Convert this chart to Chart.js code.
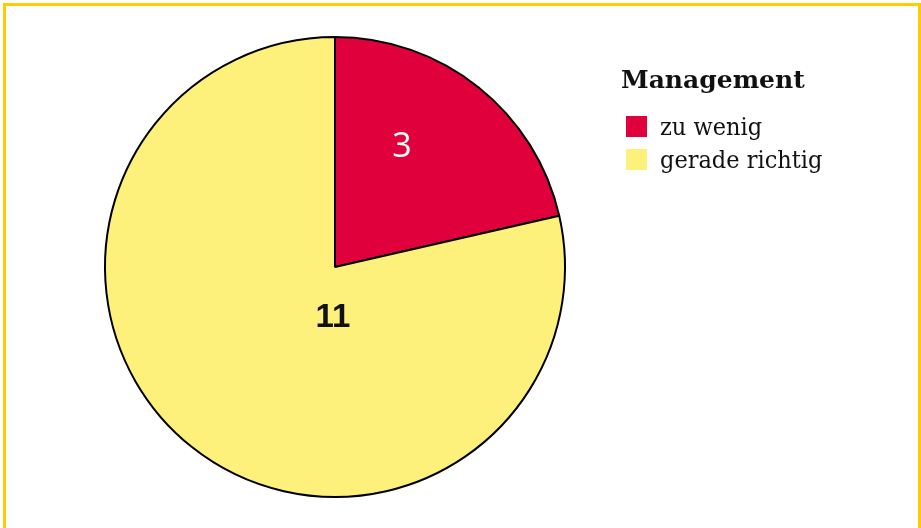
<!DOCTYPE html>
<html>
<head>
<meta charset="utf-8">
<script src="https://cdn.jsdelivr.net/npm/chart.js@4"></script>
<style>
html,body{margin:0;padding:0;background:#fff;}
#wrap{position:relative;width:921px;height:528px;overflow:hidden;}
#frame{position:absolute;left:3px;top:3px;width:912px;height:600px;border:3px solid #FFCC00;}
#c{position:absolute;left:0;top:0;}
.lg{position:absolute;left:622px;font-family:"DejaVu Serif Condensed","DejaVu Serif",serif;color:#111;white-space:nowrap;}
.lg.title{font-family:"DejaVu Serif",serif;font-size:25px;line-height:25px;font-weight:bold;top:67px;left:621px;}
.lg.item{display:flex;align-items:center;font-size:25px;line-height:33px;height:33px;}
.lg .sw{width:21px;height:21px;margin-left:4px;margin-right:13px;}
</style>
</head>
<body>
<div id="wrap">
<div id="frame"></div>
<canvas id="c" width="921" height="528"></canvas>
</div>
<script>
const title = "Management";
const categories = ["zu wenig", "gerade richtig"];
const values = [3, 11];
const colors = ["#E0003C", "#FDF07B"];
const labelColors = ["#FFFFFF", "#111111"];

// legend as real text
const wrap = document.getElementById('wrap');
const t = document.createElement('div'); t.className = 'lg title'; t.textContent = title; wrap.appendChild(t);
categories.forEach((c, i) => {
  const it = document.createElement('div'); it.className = 'lg item';
  it.style.top = (110 + i * 33) + 'px';
  const sw = document.createElement('div'); sw.className = 'sw'; sw.style.background = colors[i];
  const tx = document.createElement('span'); tx.textContent = c;
  it.appendChild(sw); it.appendChild(tx); wrap.appendChild(it);
});

const labelPlugin = {
  id: 'sliceLabels',
  afterDatasetsDraw(chart) {
    const ctx = chart.ctx;
    const meta = chart.getDatasetMeta(0);
    const radial = [0.606, 0.21];
    const fonts = [
      ['400 34px "Open Sans", "DejaVu Sans", sans-serif', 34 * 0.714],
      ['bold 33px "Liberation Sans Narrow", "Liberation Sans", sans-serif', 33 * 0.716]
    ];
    meta.data.forEach((arc, i) => {
      const p = arc.getProps(['x','y','startAngle','endAngle','outerRadius'], true);
      const a = p.startAngle + (p.endAngle - p.startAngle) * 0.372;
      const r = p.outerRadius * radial[i];
      ctx.save();
      ctx.fillStyle = labelColors[i];
      ctx.font = fonts[i][0];
      ctx.textAlign = 'center';
      ctx.textBaseline = 'alphabetic';
      ctx.fillText(String(values[i]), p.x + Math.cos(a) * r, p.y + Math.sin(a) * r + fonts[i][1] / 2);
      ctx.restore();
    });
  }
};

new Chart(document.getElementById('c'), {
  type: 'pie',
  data: {
    labels: categories,
    datasets: [{
      data: values,
      backgroundColor: colors,
      borderColor: '#000',
      borderWidth: 2
    }]
  },
  options: {
    responsive: false,
    animation: false,
    layout: { padding: { left: 104, right: 355, top: 36, bottom: 30 } },
    plugins: { legend: { display: false }, tooltip: { enabled: false } }
  },
  plugins: [labelPlugin]
});
</script>
</body>
</html>
